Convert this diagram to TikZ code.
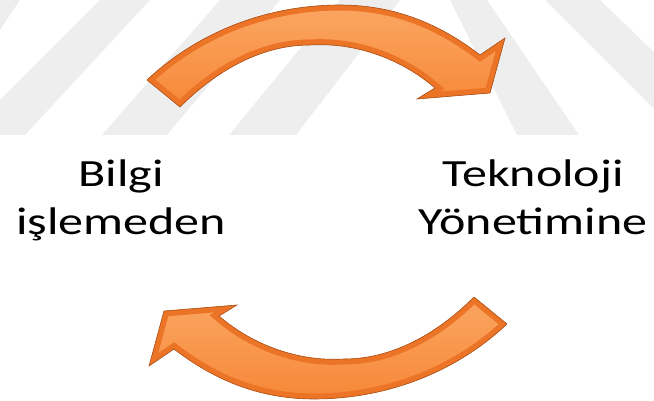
\documentclass[tikz,border=0pt]{standalone}
\usepackage{fontspec}
\newfontfamily\phrasefont{Carlito}
\usepackage{tikz}
\usetikzlibrary{positioning}

\definecolor{arrowmain}{RGB}{246,136,56}
\definecolor{arrowlight}{RGB}{251,166,98}
\definecolor{arrowbevel}{RGB}{236,116,38}
\definecolor{arrowedge}{RGB}{168,80,28}
\definecolor{markgray}{RGB}{238,238,238}

% one curved arrow, in pixel units, turning left to right
\newcommand{\cyclearrowpath}{(147,80) .. controls (200,30) and (270,5) .. (340,5)
  .. controls (400,5) and (445,28) .. (480,55) -- (505,38) -- (490,93) -- (417,99)
  -- (435,88) .. controls (405,62) and (360,42) .. (310,45)
  .. controls (260,45) and (215,72) .. (180,107) -- cycle}

\begin{document}
\begin{tikzpicture}[x=1pt,y=-1pt,
    phrase/.style={font=\phrasefont\fontsize{38.5}{48}\selectfont, align=center,
      inner sep=0pt, anchor=north, xscale=1.3},
    markband/.style={fill=markgray, draw=none}]
    \useasboundingbox (0,0) rectangle (654,401);
    \coordinate (CYCLE) at (327,202);
    %%%%% THE WATERMARK
    \begin{scope}
      \clip (0,0) rectangle (654,135);
      \path[markband] (-130,135) -- (-70,135) -- (20,0) -- (-40,0) -- cycle;
      \path[markband] (-35,135) -- (25,135) -- (150,0) -- (100,0) -- cycle;
      \path[markband] (102,135) -- (167,135) -- (280,0) -- (220,0) -- cycle;
      \path[markband] (229,135) -- (296,135) -- (400,0) -- (340,0) -- cycle;
      \path[markband] (517,135) -- (579,135) -- (487,0) -- (450,0) -- cycle;
      \path[markband] (680,135) -- (740,135) -- (600,0) -- (545,0) -- cycle;
    \end{scope}
    %%%%% THE ARROWS
    \foreach \turn in {0,180} {
      \begin{scope}[rotate around={\turn:(CYCLE)}]
        \shade[top color=arrowlight, bottom color=arrowmain] \cyclearrowpath;
        \begin{scope}
          \clip \cyclearrowpath;
          \draw[line width=11pt, arrowbevel, line join=miter] \cyclearrowpath;
        \end{scope}
        \draw[arrowedge, line width=0.6pt, line join=miter] \cyclearrowpath;
      \end{scope}
    }
    %%%%% THE TEXTS
    \node[phrase] (BILGI) at (121,160) {Bilgi\\işlemeden};
    \node[phrase] (TEKNO) at (533,160) {Teknoloji\\Yönetimine};
\end{tikzpicture}
\end{document}
